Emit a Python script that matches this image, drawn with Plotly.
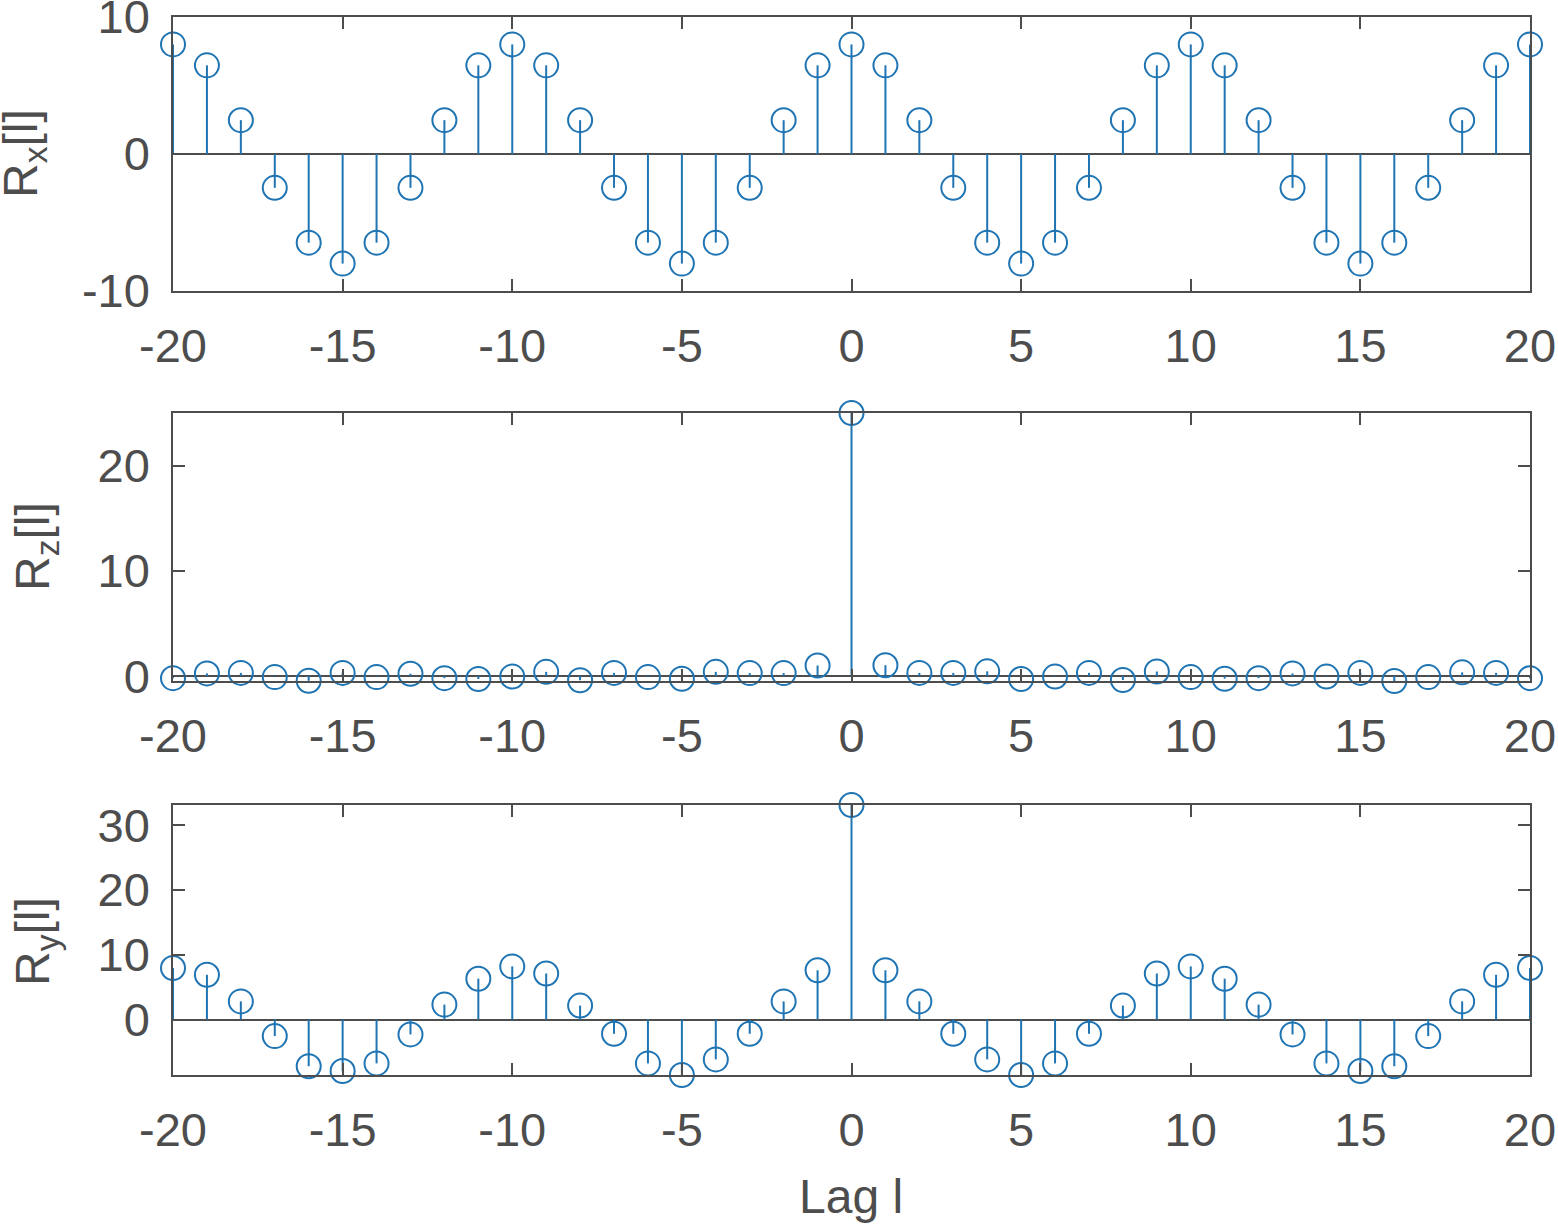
import plotly.graph_objects as go

# ---- data ----
lags = list(range(-20, 21))

Rx = [8, 6.47, 2.47, -2.47, -6.47, -8, -6.47, -2.47, 2.47, 6.47,
      8, 6.47, 2.47, -2.47, -6.47, -8, -6.47, -2.47, 2.47, 6.47,
      8,
      6.47, 2.47, -2.47, -6.47, -8, -6.47, -2.47, 2.47, 6.47, 8,
      6.47, 2.47, -2.47, -6.47, -8, -6.47, -2.47, 2.47, 6.47, 8]

Rz = [-0.2, 0.25, 0.3, -0.1, -0.45, 0.3, -0.1, 0.22, -0.2, -0.28,
      -0.05, 0.4, -0.4, 0.3, -0.1, -0.25, 0.4, 0.28, 0.28, 1.0,
      25.0,
      1.03, 0.3, 0.3, 0.45, -0.28, -0.05, 0.3, -0.38, 0.43, -0.1,
      -0.25, -0.2, 0.25, -0.05, 0.3, -0.47, -0.1, 0.35, 0.3, -0.2]

Ry = [7.95, 6.9, 2.8, -2.56, -7.2, -7.95, -6.77, -2.3, 2.3, 6.3,
      8.2, 7.1, 2.15, -2.2, -6.77, -8.56, -6.15, -2.2, 2.8, 7.6,
      33.1,
      7.6, 2.8, -2.2, -6.15, -8.56, -6.77, -2.2, 2.15, 7.1, 8.2,
      6.3, 2.3, -2.3, -6.77, -7.95, -7.2, -2.56, 2.8, 6.9, 7.95]

x_ticks = [-20, -15, -10, -5, 0, 5, 10, 15, 20]
x_ticktext = ["-20", "-15", "-10", "-5", "0", "5", "10", "15", "20"]
yx_ticks = [-10, 0, 10]
yx_ticktext = ["-10", "0", "10"]
yz_ticks = [0, 10, 20]
yz_ticktext = ["0", "10", "20"]
yy_ticks = [0, 10, 20, 30]
yy_ticktext = ["0", "10", "20", "30"]

ylabels = ["R<sub>x</sub>[l]", "R<sub>z</sub>[l]", "R<sub>y</sub>[l]"]
xlabel = "Lag l"

# ---- style ----
BLUE = "#1f74b3"
AX = "#4d4d4d"
FONT = "Liberation Sans, Arial, Helvetica, sans-serif"
FS = 47
FSL = 48

W, H = 1558, 1229
ML, MR, MT, MB = 173, 28, 17, 154
PH = H - MT - MB

def dom(top_px, bot_px):
    return [1 - (bot_px - MT) / PH, 1 - (top_px - MT) / PH]

domains = [dom(17, 291), dom(413, 681), dom(805, 1075)]
yranges = [[-10, 10], [-0.47, 25], [-8.56, 33.1]]
yticks = [(yx_ticks, yx_ticktext), (yz_ticks, yz_ticktext), (yy_ticks, yy_ticktext)]
series = [Rx, Rz, Ry]

fig = go.Figure()

for i, ys in enumerate(series):
    xa = "x" if i == 0 else f"x{i+1}"
    ya = "y" if i == 0 else f"y{i+1}"
    sx, sy = [], []
    for xv, yv in zip(lags, ys):
        sx += [xv, xv, None]
        sy += [0, yv, None]
    fig.add_trace(go.Scatter(x=sx, y=sy, mode="lines", xaxis=xa, yaxis=ya,
                             line=dict(color=BLUE, width=2), showlegend=False,
                             hoverinfo="skip", cliponaxis=False))
    fig.add_trace(go.Scatter(x=lags, y=ys, mode="markers", xaxis=xa, yaxis=ya,
                             marker=dict(symbol="circle-open", size=24,
                                         color=BLUE, line=dict(color=BLUE, width=2)),
                             showlegend=False, cliponaxis=False))

axis_common = dict(showline=True, linecolor=AX, linewidth=1.5, mirror="ticks",
                   ticks="inside", ticklen=12, tickwidth=1.5, tickcolor=AX,
                   showgrid=False, automargin=False, ticklabeloverflow="allow",
                   tickfont=dict(family=FONT, size=FS, color=AX))

layout = dict(width=W, height=H, paper_bgcolor="white", plot_bgcolor="white",
              margin=dict(l=ML, r=MR, t=MT, b=MB, autoexpand=False),
              font=dict(family=FONT, size=FS, color=AX))

for i in range(3):
    xk = "xaxis" if i == 0 else f"xaxis{i+1}"
    yk = "yaxis" if i == 0 else f"yaxis{i+1}"
    ya = "y" if i == 0 else f"y{i+1}"
    xa = "x" if i == 0 else f"x{i+1}"
    layout[xk] = dict(axis_common, domain=[0, 1], anchor=ya, range=[-20, 20],
                      tickvals=x_ticks, ticktext=x_ticktext, zeroline=False,
                      ticklabelstandoff=13)
    layout[yk] = dict(axis_common, domain=domains[i], anchor=xa, range=yranges[i],
                      tickvals=yticks[i][0], ticktext=yticks[i][1],
                      zeroline=True, zerolinecolor=AX, zerolinewidth=1.5,
                      ticklabelstandoff=12)

fig.update_layout(**layout)

label_px = [(24, 154), (36, 547), (36, 942)]
for txt, (px, py) in zip(ylabels, label_px):
    fig.add_annotation(text=txt, xref="paper", yref="paper",
                       x=(px - ML) / (W - ML - MR), y=1 - (py - MT) / PH,
                       xanchor="center", yanchor="middle", textangle=-90,
                       showarrow=False, font=dict(family=FONT, size=FSL, color=AX))

fig.add_annotation(text=xlabel, xref="paper", yref="paper",
                   x=(851 - ML) / (W - ML - MR), y=1 - (1196 - MT) / PH,
                   xanchor="center", yanchor="middle", showarrow=False,
                   font=dict(family=FONT, size=FSL, color=AX))

fig.write_html("out.html", config={"displayModeBar": False},
               post_script="document.body.style.margin='0';document.body.style.overflow='hidden';")
